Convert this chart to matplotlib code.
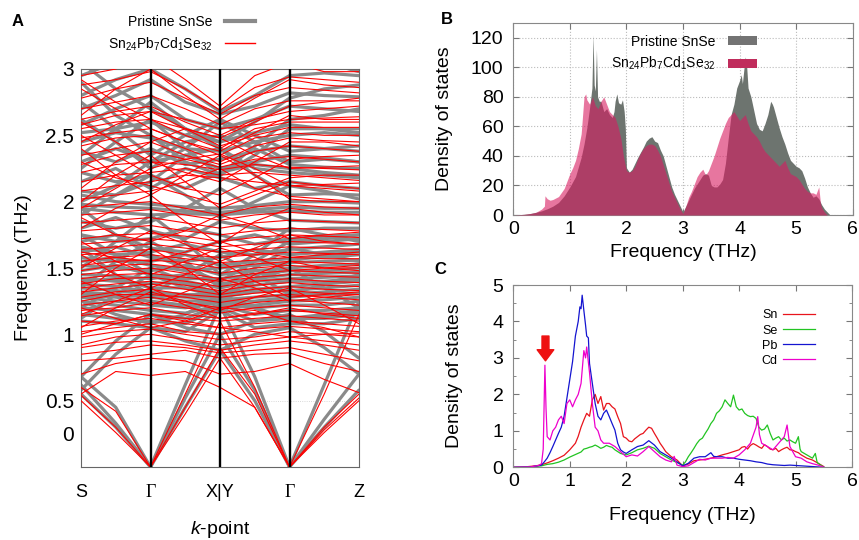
import matplotlib
matplotlib.use("Agg")
import matplotlib.pyplot as plt
from matplotlib.lines import Line2D
from matplotlib.patches import Patch

plt.rcParams["font.family"] = ["Liberation Sans", "DejaVu Sans"]
plt.rcParams["mathtext.fontset"] = "custom"
plt.rcParams["mathtext.rm"] = "Liberation Sans"
plt.rcParams["mathtext.it"] = "Liberation Sans:italic"

# ---------------- panel A: phonon bands (S, mid, G, mid, X|Y, mid, G, mid, Z)
k_nodes = [0, 0.5, 1, 1.5, 2, 2.5, 3, 3.5, 4]
k_labels = ["S", "Γ", "X|Y", "Γ", "Z"]

bands_pristine = [
    [0.55, 0.30, 0.00, 0.45, 0.88, 0.50, 0.00, 0.30, 0.58],
    [0.62, 0.33, 0.00, 0.52, 1.00, 0.58, 0.00, 0.36, 0.70],
    [0.68, 0.45, 0.00, 0.62, 1.22, 0.68, 0.00, 0.62, 1.25],
    [0.58, 0.85, 1.05, 0.95, 0.88, 1.00, 1.05, 0.90, 0.70],
    [0.68, 0.95, 1.15, 1.05, 1.00, 1.10, 1.15, 1.02, 0.82],
    [2.95, 3.05, 3.20, 3.30, 3.40, 3.30, 3.15, 3.05, 2.98],
    [2.80, 2.92, 3.00, 2.85, 2.68, 2.80, 2.95, 2.97, 2.95],
    [2.70, 2.80, 2.92, 2.75, 2.66, 2.72, 2.82, 2.80, 2.79],
    [2.58, 2.70, 2.80, 2.62, 2.55, 2.62, 2.72, 2.70, 2.68],
    [2.52, 2.55, 2.60, 2.50, 2.45, 2.52, 2.58, 2.55, 2.52],
    [2.45, 2.52, 2.48, 2.40, 2.38, 2.45, 2.50, 2.52, 2.50],
    [2.38, 2.30, 2.40, 2.28, 2.32, 2.38, 2.42, 2.40, 2.38],
    [2.30, 2.40, 2.30, 2.35, 2.25, 2.30, 2.35, 2.33, 2.30],
    [2.22, 2.15, 2.20, 2.10, 2.22, 2.28, 2.25, 2.22, 2.20],
    [2.15, 2.25, 2.10, 2.25, 2.18, 2.10, 2.15, 2.12, 2.10],
    [2.08, 2.05, 2.15, 2.35, 2.40, 2.20, 2.05, 2.06, 2.05],
    [2.35, 2.55, 2.75, 2.55, 2.40, 2.25, 2.22, 2.20, 2.18],
    [2.62, 2.45, 2.25, 2.40, 2.60, 2.45, 2.30, 2.32, 2.30],
    [2.90, 2.65, 2.50, 2.30, 2.20, 2.42, 2.62, 2.65, 2.70],
    [2.05, 2.00, 1.98, 1.96, 1.95, 1.97, 2.00, 2.00, 1.99],
    [1.98, 1.96, 1.95, 1.93, 1.92, 1.94, 1.96, 1.95, 1.95],
    [1.95, 1.92, 1.90, 1.91, 1.90, 1.92, 1.93, 1.92, 1.92],
    [1.90, 2.05, 2.20, 2.05, 1.88, 2.00, 2.12, 2.08, 2.02],
    [1.85, 1.80, 1.85, 1.95, 2.10, 1.95, 1.86, 1.85, 1.84],
    [1.80, 1.88, 1.78, 1.72, 1.85, 1.80, 1.78, 1.80, 1.80],
    [1.75, 1.70, 1.72, 1.80, 1.75, 1.68, 1.72, 1.74, 1.75],
    [1.70, 1.75, 1.65, 1.62, 1.70, 1.75, 1.68, 1.70, 1.72],
    [1.66, 1.60, 1.62, 1.68, 1.62, 1.60, 1.64, 1.66, 1.68],
    [1.62, 1.66, 1.58, 1.55, 1.58, 1.64, 1.60, 1.62, 1.64],
    [1.58, 1.55, 1.55, 1.60, 1.52, 1.55, 1.57, 1.58, 1.60],
    [1.55, 1.58, 1.52, 1.48, 1.50, 1.52, 1.54, 1.55, 1.56],
    [1.52, 1.50, 1.48, 1.52, 1.45, 1.48, 1.50, 1.52, 1.53],
    [1.48, 1.52, 1.45, 1.42, 1.42, 1.45, 1.48, 1.48, 1.50],
    [1.45, 1.44, 1.42, 1.45, 1.38, 1.42, 1.45, 1.46, 1.47],
    [1.42, 1.40, 1.38, 1.40, 1.35, 1.40, 1.42, 1.43, 1.44],
    [1.40, 1.42, 1.35, 1.35, 1.32, 1.37, 1.40, 1.40, 1.42],
    [1.38, 1.36, 1.32, 1.30, 1.30, 1.34, 1.36, 1.38, 1.40],
    [1.35, 1.33, 1.30, 1.28, 1.28, 1.32, 1.33, 1.35, 1.37],
    [1.32, 1.30, 1.28, 1.25, 1.26, 1.28, 1.30, 1.32, 1.34],
    [1.30, 1.28, 1.25, 1.22, 1.25, 1.25, 1.28, 1.30, 1.31],
    [1.28, 1.25, 1.22, 1.20, 1.24, 1.22, 1.25, 1.26, 1.28],
    [1.25, 1.22, 1.18, 1.16, 1.22, 1.20, 1.22, 1.22, 1.25],
    [1.20, 1.18, 1.15, 1.12, 1.22, 1.15, 1.18, 1.18, 1.20],
    [1.15, 1.12, 1.10, 1.08, 1.20, 1.10, 1.12, 1.12, 1.15],
    [1.10, 1.08, 1.05, 1.02, 1.18, 1.05, 1.08, 1.08, 1.12],
    [1.35, 1.55, 1.70, 1.55, 1.35, 1.50, 1.65, 1.60, 1.55],
    [1.65, 1.45, 1.30, 1.45, 1.60, 1.45, 1.30, 1.38, 1.45],
    [1.20, 1.35, 1.50, 1.40, 1.30, 1.20, 1.12, 1.15, 1.18],
    [1.75, 1.60, 1.45, 1.35, 1.28, 1.40, 1.55, 1.60, 1.62],
    [1.50, 1.70, 1.90, 1.70, 1.45, 1.60, 1.80, 1.75, 1.70],
    [1.95, 1.75, 1.60, 1.50, 1.40, 1.55, 1.70, 1.72, 1.75],
    [2.25, 2.45, 2.62, 2.40, 2.20, 2.35, 2.55, 2.55, 2.55],
    [2.75, 2.55, 2.35, 2.50, 2.62, 2.50, 2.38, 2.40, 2.42],
    [1.12, 1.30, 1.45, 1.38, 1.30, 1.40, 1.50, 1.35, 1.20],
    [1.25, 1.15, 1.08, 1.15, 1.30, 1.20, 1.10, 1.14, 1.16],
    [2.00, 2.12, 2.30, 2.45, 2.50, 2.40, 2.28, 2.26, 2.25],
    [3.05, 2.85, 2.70, 2.55, 2.45, 2.60, 2.78, 2.85, 2.88],
]

bands_doped = [
    [0.50, 0.26, 0.00, 0.40, 0.82, 0.45, 0.00, 0.26, 0.50],
    [0.54, 0.30, 0.00, 0.45, 0.90, 0.55, 0.00, 0.30, 0.55],
    [0.60, 0.42, 0.00, 0.55, 1.10, 0.60, 0.00, 0.55, 1.15],
    [0.55, 0.72, 0.69, 0.72, 0.60, 0.45, 0.00, 0.28, 0.52],
    [0.70, 0.78, 0.82, 0.80, 0.70, 0.72, 0.78, 0.66, 0.56],
    [0.80, 0.82, 0.85, 0.88, 0.82, 0.85, 0.86, 0.78, 0.72],
    [0.85, 0.88, 0.92, 0.90, 0.86, 0.88, 0.90, 0.85, 0.80],
    [0.90, 0.94, 0.95, 0.92, 0.88, 0.92, 0.95, 0.92, 0.88],
    [0.92, 0.98, 1.00, 0.96, 0.92, 0.95, 0.98, 0.95, 0.92],
    [0.98, 1.02, 1.04, 1.00, 0.96, 0.98, 1.02, 1.00, 0.98],
    [1.02, 1.05, 1.08, 1.02, 1.00, 1.04, 1.06, 1.04, 1.02],
    [1.06, 1.10, 1.12, 1.08, 1.05, 1.08, 1.10, 1.08, 1.06],
    [1.10, 1.08, 1.15, 1.12, 1.10, 1.12, 1.14, 1.12, 1.10],
    [1.14, 1.18, 1.20, 1.15, 1.12, 1.16, 1.18, 1.16, 1.14],
    [1.18, 1.20, 1.24, 1.20, 1.16, 1.20, 1.22, 1.20, 1.18],
    [1.22, 1.25, 1.28, 1.24, 1.20, 1.24, 1.26, 1.24, 1.22],
    [1.25, 1.30, 1.30, 1.28, 1.24, 1.28, 1.30, 1.28, 1.26],
    [1.28, 1.32, 1.34, 1.30, 1.28, 1.31, 1.33, 1.31, 1.30],
    [1.32, 1.35, 1.38, 1.34, 1.30, 1.34, 1.36, 1.34, 1.33],
    [1.35, 1.38, 1.40, 1.37, 1.33, 1.37, 1.39, 1.37, 1.36],
    [1.38, 1.42, 1.43, 1.40, 1.36, 1.40, 1.42, 1.40, 1.39],
    [1.42, 1.45, 1.46, 1.43, 1.40, 1.43, 1.45, 1.44, 1.43],
    [1.45, 1.48, 1.50, 1.46, 1.42, 1.46, 1.48, 1.47, 1.46],
    [1.48, 1.52, 1.53, 1.50, 1.46, 1.50, 1.52, 1.50, 1.50],
    [1.52, 1.55, 1.56, 1.54, 1.50, 1.53, 1.55, 1.54, 1.53],
    [1.55, 1.58, 1.60, 1.57, 1.54, 1.56, 1.58, 1.57, 1.57],
    [1.60, 1.62, 1.64, 1.60, 1.58, 1.60, 1.62, 1.61, 1.60],
    [1.64, 1.66, 1.68, 1.65, 1.62, 1.64, 1.66, 1.65, 1.64],
    [1.68, 1.70, 1.72, 1.70, 1.66, 1.68, 1.70, 1.69, 1.68],
    [1.72, 1.75, 1.76, 1.74, 1.70, 1.73, 1.75, 1.74, 1.73],
    [1.78, 1.80, 1.82, 1.78, 1.75, 1.78, 1.80, 1.79, 1.78],
    [1.84, 1.86, 1.88, 1.84, 1.80, 1.84, 1.86, 1.85, 1.84],
    [1.90, 1.92, 1.94, 1.90, 1.86, 1.90, 1.92, 1.90, 1.90],
    [1.96, 1.98, 2.00, 1.95, 1.90, 1.96, 1.98, 1.96, 1.95],
    [2.02, 2.05, 2.08, 2.15, 2.25, 2.10, 2.04, 2.02, 2.00],
    [2.08, 2.12, 2.15, 2.20, 2.18, 2.15, 2.12, 2.10, 2.08],
    [2.15, 2.20, 2.22, 2.25, 2.20, 2.22, 2.20, 2.18, 2.16],
    [2.22, 2.28, 2.30, 2.28, 2.24, 2.28, 2.26, 2.25, 2.24],
    [2.28, 2.35, 2.38, 2.32, 2.26, 2.32, 2.34, 2.32, 2.30],
    [2.35, 2.40, 2.45, 2.35, 2.28, 2.38, 2.42, 2.40, 2.38],
    [2.42, 2.48, 2.50, 2.40, 2.30, 2.42, 2.48, 2.46, 2.45],
    [2.48, 2.52, 2.55, 2.45, 2.35, 2.48, 2.52, 2.50, 2.50],
    [2.55, 2.60, 2.62, 2.50, 2.40, 2.55, 2.60, 2.60, 2.60],
    [2.62, 2.68, 2.72, 2.60, 2.50, 2.62, 2.68, 2.70, 2.72],
    [2.70, 2.75, 2.80, 2.70, 2.58, 2.70, 2.76, 2.76, 2.76],
    [2.78, 2.85, 2.90, 2.78, 2.66, 2.80, 2.86, 2.84, 2.82],
    [2.88, 2.92, 2.98, 2.85, 2.69, 2.86, 2.94, 2.92, 2.90],
    [2.95, 3.00, 3.10, 2.92, 2.72, 2.95, 3.05, 2.98, 2.98],
    [1.30, 1.50, 1.65, 1.50, 1.30, 1.45, 1.55, 1.50, 1.48],
    [1.60, 1.45, 1.35, 1.45, 1.55, 1.40, 1.28, 1.30, 1.32],
    [2.00, 2.20, 2.35, 2.15, 1.95, 2.05, 2.15, 2.12, 2.10],
    [2.40, 2.20, 2.05, 2.20, 2.35, 2.20, 2.02, 2.00, 2.00],
    [1.80, 1.95, 2.05, 1.85, 1.68, 1.85, 1.95, 1.92, 1.90],
    [2.60, 2.45, 2.30, 2.22, 2.15, 2.30, 2.45, 2.45, 2.42],
    [1.15, 1.25, 1.35, 1.22, 1.12, 1.15, 1.20, 1.15, 1.12],
    [2.85, 2.70, 2.55, 2.45, 2.38, 2.52, 2.65, 2.62, 2.62],
    [1.05, 1.20, 1.32, 1.25, 1.18, 1.28, 1.35, 1.22, 1.08],
    [1.40, 1.30, 1.22, 1.32, 1.42, 1.35, 1.25, 1.28, 1.30],
    [1.70, 1.55, 1.45, 1.55, 1.65, 1.58, 1.48, 1.50, 1.52],
    [1.50, 1.65, 1.78, 1.68, 1.55, 1.65, 1.75, 1.70, 1.68],
    [2.10, 2.30, 2.45, 2.55, 2.48, 2.35, 2.25, 2.26, 2.27],
    [2.50, 2.35, 2.20, 2.10, 2.05, 2.18, 2.32, 2.34, 2.35],
    [2.65, 2.85, 3.00, 2.80, 2.62, 2.78, 2.92, 2.88, 2.86],
    [1.88, 1.75, 1.70, 1.78, 1.90, 1.82, 1.72, 1.75, 1.77],
    [1.62, 1.58, 1.55, 1.62, 1.70, 1.62, 1.58, 1.60, 1.62],
    [2.30, 2.18, 2.12, 2.05, 1.98, 2.08, 2.18, 2.20, 2.20],
    [1.00, 1.08, 1.15, 1.10, 1.05, 1.02, 0.98, 1.00, 1.01],
    [1.95, 2.10, 2.25, 2.32, 2.36, 2.25, 2.12, 2.13, 2.14],
    [2.92, 2.75, 2.62, 2.55, 2.48, 2.60, 2.72, 2.75, 2.78],
    [1.20, 1.12, 1.05, 1.10, 1.20, 1.18, 1.10, 1.05, 0.98],
    [2.58, 2.65, 2.68, 2.62, 2.55, 2.58, 2.62, 2.63, 2.64],
    [2.45, 2.58, 2.68, 2.55, 2.42, 2.50, 2.56, 2.56, 2.56],
]

# ---------------- panel B: total phonon DOS
freq_pristine = [0.0, 0.1, 0.2, 0.3, 0.4, 0.5, 0.6, 0.7, 0.8, 0.9, 1.0, 1.1, 1.2, 1.25, 1.3,
                 1.35, 1.39, 1.41, 1.43, 1.45, 1.47, 1.49, 1.52, 1.55, 1.6, 1.65, 1.7, 1.75,
                 1.78, 1.8, 1.83, 1.86, 1.9, 1.93, 1.96, 1.98, 2.0, 2.05, 2.1, 2.15, 2.2, 2.3,
                 2.35, 2.4, 2.45, 2.5, 2.55, 2.6, 2.65, 2.7, 2.75, 2.8, 2.85, 2.9, 2.95, 3.0,
                 3.05, 3.1, 3.15, 3.2, 3.25, 3.3, 3.35, 3.4, 3.45, 3.5, 3.55, 3.6, 3.65, 3.7,
                 3.75, 3.8, 3.85, 3.9, 3.95, 4.0, 4.03, 4.05, 4.08, 4.1, 4.12, 4.15, 4.2, 4.25,
                 4.3, 4.35, 4.4, 4.45, 4.5, 4.55, 4.58, 4.6, 4.65, 4.7, 4.75, 4.8, 4.85, 4.9,
                 4.95, 5.0, 5.05, 5.1, 5.15, 5.2, 5.25, 5.3, 5.35, 5.4, 5.45, 5.5, 5.55, 5.6]
dos_pristine = [0, 0.2, 0.5, 1, 1.8, 2.8, 4.2, 6, 8.5, 13, 19, 26, 39, 48, 59,
                73, 86, 122, 88, 84, 112, 80, 77, 77, 70, 72, 68, 66,
                70, 77, 82, 76, 75, 78, 70, 59, 32, 29, 31, 35, 39, 46,
                50, 52, 53, 50, 49, 44, 40, 33, 26, 19, 14, 10, 6, 2,
                6, 10, 14, 18, 21, 24, 27, 28, 27, 20, 19, 19, 21, 24,
                35, 52, 68, 75, 86, 91, 95, 89, 100, 107, 104, 86, 80, 71,
                62, 58, 57, 62, 68, 77, 75, 73, 66, 59, 53, 48, 42, 37,
                35, 33, 32, 30, 25, 19, 15, 12, 13, 11, 7, 4, 2, 0]

freq_doped = [0.0, 0.1, 0.2, 0.3, 0.4, 0.5, 0.55, 0.56, 0.6, 0.65, 0.7, 0.8, 0.9, 1.0, 1.05,
              1.1, 1.15, 1.2, 1.23, 1.25, 1.28, 1.3, 1.35, 1.4, 1.45, 1.5, 1.55, 1.6, 1.65,
              1.7, 1.75, 1.8, 1.85, 1.9, 1.95, 2.0, 2.05, 2.1, 2.15, 2.2, 2.25, 2.3, 2.35,
              2.4, 2.45, 2.5, 2.55, 2.6, 2.65, 2.7, 2.75, 2.8, 2.85, 2.9, 2.95, 3.0, 3.05,
              3.1, 3.15, 3.2, 3.25, 3.3, 3.35, 3.4, 3.45, 3.5, 3.55, 3.6, 3.65, 3.7, 3.75,
              3.8, 3.85, 3.9, 3.95, 4.0, 4.05, 4.1, 4.15, 4.2, 4.25, 4.3, 4.35, 4.4, 4.45,
              4.5, 4.55, 4.6, 4.65, 4.7, 4.75, 4.8, 4.85, 4.9, 4.95, 5.0, 5.05, 5.1, 5.15,
              5.2, 5.25, 5.3, 5.35, 5.4, 5.43, 5.45, 5.5, 5.55]
dos_doped = [0, 0.2, 0.5, 1, 1.8, 4, 6, 13, 11, 10, 10.5, 12.5, 18, 28, 32,
             37, 45, 55, 70, 80, 82, 78, 75, 80, 74, 72, 77, 80, 75,
             70, 68, 66, 60, 52, 39, 30, 29, 30, 33, 38, 42, 45, 47,
             48, 48, 47, 44, 40, 34, 28, 22, 16, 12, 8, 4, 1, 6,
             12, 16, 21, 26, 29, 31, 27, 30, 35, 40, 46, 52, 57, 62,
             66, 68, 70, 67, 64, 66, 68, 62, 57, 55, 53, 50, 46, 43,
             41, 39, 37, 35, 33, 35, 37, 32, 28, 27, 26, 24, 21, 18,
             16, 15, 15, 14, 19, 8, 5, 2, 0]

# ---------------- panel C: partial DOS of the doped cell
freq_sn = [0, 0.2, 0.4, 0.5, 0.6, 0.7, 0.8, 0.9, 1.0, 1.1, 1.15, 1.2, 1.25, 1.3, 1.35, 1.4,
           1.45, 1.5, 1.55, 1.6, 1.65, 1.7, 1.75, 1.8, 1.85, 1.9, 1.95, 2.0, 2.05, 2.1, 2.15,
           2.2, 2.25, 2.3, 2.35, 2.4, 2.45, 2.5, 2.55, 2.6, 2.65, 2.7, 2.8, 2.9, 2.95, 3.0,
           3.1, 3.2, 3.3, 3.4, 3.5, 3.6, 3.7, 3.8, 3.9, 4.0, 4.05, 4.1, 4.15, 4.2, 4.25, 4.3,
           4.35, 4.4, 4.45, 4.5, 4.55, 4.6, 4.65, 4.7, 4.75, 4.8, 4.85, 4.9, 4.95, 5.0, 5.05,
           5.1, 5.2, 5.3, 5.4, 5.5]
pdos_sn = [0, 0.01, 0.04, 0.07, 0.12, 0.18, 0.25, 0.33, 0.48, 0.66, 0.85, 1.1, 1.3, 1.48, 1.4, 1.85,
           2.0, 1.75, 1.94, 1.57, 1.75, 1.75, 1.66, 1.6, 1.39, 1.2, 0.84, 0.8, 0.72, 0.7, 0.78,
           0.84, 0.9, 0.93, 1.02, 1.1, 1.07, 0.93, 0.8, 0.66, 0.55, 0.43, 0.29, 0.2, 0.12, 0.04,
           0.09, 0.18, 0.2, 0.22, 0.25, 0.29, 0.34, 0.38, 0.43, 0.48, 0.55, 0.57, 0.5, 0.6, 0.65, 0.61,
           0.56, 0.52, 0.62, 0.57, 0.5, 0.48, 0.52, 0.43, 0.48, 0.52, 0.55, 0.48, 0.47, 0.43, 0.4,
           0.34, 0.25, 0.2, 0.11, 0.02]

freq_se = [0, 0.3, 0.5, 0.6, 0.7, 0.8, 0.9, 1.0, 1.1, 1.2, 1.25, 1.3, 1.35, 1.4, 1.45, 1.5,
           1.55, 1.6, 1.65, 1.7, 1.75, 1.8, 1.9, 2.0, 2.1, 2.2, 2.3, 2.4, 2.45, 2.5, 2.6, 2.7,
           2.8, 2.9, 3.0, 3.05, 3.1, 3.15, 3.2, 3.25, 3.3, 3.35, 3.4, 3.45, 3.5, 3.55, 3.6,
           3.65, 3.7, 3.75, 3.8, 3.85, 3.9, 3.95, 4.0, 4.05, 4.1, 4.15, 4.2, 4.25, 4.3, 4.35,
           4.4, 4.45, 4.5, 4.55, 4.6, 4.65, 4.7, 4.75, 4.8, 4.85, 4.9, 4.95, 5.0, 5.05, 5.08,
           5.1, 5.2, 5.3, 5.35, 5.38, 5.4, 5.5]
pdos_se = [0, 0.01, 0.04, 0.08, 0.1, 0.14, 0.2, 0.28, 0.35, 0.42, 0.5, 0.52, 0.55, 0.57, 0.61, 0.57,
           0.52, 0.55, 0.6, 0.57, 0.55, 0.48, 0.38, 0.34, 0.4, 0.48, 0.52, 0.58, 0.55, 0.52, 0.38, 0.29,
           0.2, 0.13, 0.06, 0.15, 0.29, 0.4, 0.52, 0.65, 0.75, 0.8, 0.93, 1.05, 1.2, 1.3, 1.48,
           1.55, 1.66, 1.85, 1.75, 1.66, 1.98, 1.66, 1.57, 1.6, 1.48, 1.42, 1.39, 1.4, 1.34, 1.1,
           1.02, 1.05, 1.16, 0.93, 0.75, 0.8, 0.84, 0.75, 0.8, 0.72, 0.75, 0.7, 0.66, 0.84, 0.5,
           0.43, 0.34, 0.25, 0.38, 0.15, 0.11, 0]

freq_pb = [0, 0.3, 0.5, 0.55, 0.6, 0.65, 0.7, 0.75, 0.8, 0.85, 0.9, 0.95, 1.0, 1.05, 1.1, 1.15,
           1.18, 1.2, 1.22, 1.25, 1.28, 1.3, 1.33, 1.35, 1.4, 1.45, 1.5, 1.55, 1.6, 1.65, 1.7,
           1.75, 1.8, 1.85, 1.9, 1.95, 2.0, 2.1, 2.2, 2.3, 2.4, 2.5, 2.6, 2.7, 2.8, 2.9, 3.0,
           3.1, 3.2, 3.3, 3.4, 3.5, 3.55, 3.6, 3.7, 3.8, 3.9, 4.0, 4.1, 4.2, 4.3, 4.4, 4.5,
           4.6, 4.7, 4.8, 4.9, 5.0, 5.2, 5.4, 5.5]
pdos_pb = [0, 0.01, 0.06, 0.15, 0.25, 0.4, 0.57, 0.75, 0.93, 1.1, 1.4, 1.9, 2.4, 2.9, 3.6, 4.0,
           4.4, 4.35, 4.72, 4.3, 3.9, 3.6, 3.55, 2.85, 2.3, 1.75, 1.4, 1.3, 1.48, 1.57, 1.39,
           1.2, 1.02, 0.66, 0.48, 0.42, 0.38, 0.48, 0.57, 0.61, 0.73, 0.61, 0.43, 0.34, 0.25, 0.15, 0.04,
           0.11, 0.25, 0.29, 0.29, 0.4, 0.3, 0.29, 0.29, 0.25, 0.25, 0.22, 0.2, 0.18, 0.15, 0.13, 0.09,
           0.07, 0.06, 0.05, 0.06, 0.05, 0.03, 0.01, 0]

freq_cd = [0, 0.3, 0.45, 0.5, 0.53, 0.56, 0.58, 0.6, 0.65, 0.7, 0.75, 0.8, 0.85, 0.9, 0.95, 1.0,
           1.05, 1.1, 1.15, 1.2, 1.25, 1.28, 1.3, 1.35, 1.4, 1.45, 1.5, 1.55, 1.6, 1.7, 1.8,
           1.9, 2.0, 2.1, 2.2, 2.3, 2.4, 2.5, 2.6, 2.7, 2.8, 2.85, 2.9, 3.0, 3.1, 3.2, 3.3,
           3.4, 3.5, 3.6, 3.7, 3.8, 3.9, 4.0, 4.1, 4.2, 4.3, 4.33, 4.36, 4.4, 4.5, 4.6, 4.7,
           4.8, 4.85, 4.9, 5.0, 5.1, 5.2, 5.3, 5.4, 5.5]
pdos_cd = [0, 0.01, 0.05, 0.1, 0.5, 2.8, 1.6, 0.84, 0.75, 1.0, 1.1, 1.3, 1.4, 1.2, 1.75, 1.85,
           1.66, 1.85, 2.0, 2.3, 3.2, 3.0, 3.3, 2.6, 1.75, 1.1, 1.0, 0.75, 0.66, 0.66, 0.57,
           0.43, 0.29, 0.34, 0.31, 0.43, 0.57, 0.43, 0.29, 0.2, 0.15, 0.3, 0.06, 0.02, 0.04, 0.13, 0.22,
           0.2, 0.25, 0.25, 0.25, 0.27, 0.25, 0.34, 0.48, 0.66, 1.1, 1.39, 0.9, 0.66, 0.57, 0.48, 0.66,
           0.84, 1.16, 0.57, 0.29, 0.25, 0.15, 0.1, 0.06, 0]

label_pristine = "Pristine SnSe"
label_doped = r"Sn$_{24}$Pb$_{7}$Cd$_{1}$Se$_{32}$"

W, H = 859, 540
fig = plt.figure(figsize=(W / 100, H / 100), dpi=100)
axA = fig.add_axes([81 / W, 1 - 467 / H, 278 / W, 398 / H])
axB = fig.add_axes([513.3 / W, 1 - 215 / H, 339.4 / W, 192 / H])
axC = fig.add_axes([513.3 / W, 1 - 467.3 / H, 338.7 / W, 182.3 / H])

# ---- A
for b in bands_pristine:
    axA.plot(k_nodes, b, color="#8a8a8a", lw=2.3, solid_capstyle="round", zorder=2)
for b in bands_doped:
    axA.plot(k_nodes, b, color="#ff0000", lw=0.8, zorder=3)
for k in [1, 2, 3]:
    axA.axvline(k, color="black", lw=1.7, zorder=4)
axA.axhline(0.5, color="#cccccc", lw=0.6, ls=":", zorder=1)
axA.set_xlim(0, 4)
axA.set_ylim(0, 3)
axA.set_xticks([0, 1, 2, 3, 4])
axA.set_xticklabels(k_labels, fontsize=13)
for t in axA.get_xticklabels():
    if t.get_text() == "Γ":
        t.set_family("Liberation Serif")
axA.set_yticks([0.25, 0.5, 1, 1.5, 2, 2.5, 3])
axA.set_yticklabels(["0", "0.5", "1", "1.5", "2", "2.5", "3"], fontsize=15)
axA.tick_params(length=0)
axA.tick_params(axis="y", pad=5)
axA.tick_params(axis="x", pad=12)
for s in axA.spines.values():
    s.set_color("#666666")
axA.set_ylabel("Frequency (THz)", fontsize=14)
axA.yaxis.set_label_coords(-0.176, 0.5)
axA.set_xlabel(r"$\it{k}$-point", fontsize=14)
axA.xaxis.set_label_coords(0.5, -0.13)

handlesA = [Line2D([], [], color="#8a8a8a", lw=3), Line2D([], [], color="#ff0000", lw=1)]
fig.legend(handlesA, [label_pristine, label_doped], loc="upper right",
           bbox_to_anchor=(262 / W, 1 - 8 / H), frameon=False, markerfirst=False,
           fontsize=10, handlelength=2.2, handletextpad=0.9, labelspacing=0.45, borderpad=0)

# ---- B
axB.fill_between(freq_pristine, dos_pristine, color="#6d746f", lw=0, zorder=2)
axB.fill_between(freq_doped, dos_doped, color="#d81b60", alpha=0.6, lw=0, zorder=3)
axB.set_xlim(0, 6)
axB.set_ylim(0, 130)
axB.set_xticks(range(0, 7))
axB.set_yticks(range(0, 121, 20))
axB.grid(True, ls=":", color="#bbbbbb", lw=0.8)
axB.set_axisbelow(True)
axB.set_xlabel("Frequency (THz)", fontsize=14)
axB.xaxis.set_label_coords(0.5, -0.15)
axB.set_ylabel("Density of states", fontsize=14)
axB.yaxis.set_label_coords(-0.178, 0.5)
handlesB = [Patch(facecolor="#737373"), Patch(facecolor="#c02c5c")]
axB.legend(handlesB, [label_pristine, label_doped], loc="upper right",
           bbox_to_anchor=(0.738, 0.975), frameon=False, markerfirst=False,
           fontsize=10, handlelength=2.1, handleheight=0.6, handletextpad=0.9,
           labelspacing=0.45, borderpad=0)

# ---- C
axC.plot(freq_sn, pdos_sn, color="#e8141c", lw=0.9, label="Sn")
axC.plot(freq_se, pdos_se, color="#22c422", lw=0.9, label="Se")
axC.plot(freq_pb, pdos_pb, color="#1414d0", lw=0.9, label="Pb")
axC.plot(freq_cd, pdos_cd, color="#ee00cc", lw=0.9, label="Cd")
axC.annotate("", xy=(0.57, 2.92), xytext=(0.57, 3.6),
             arrowprops=dict(facecolor="#ee1111", edgecolor="#ee1111",
                             width=5, headwidth=12, headlength=8))
axC.set_xlim(0, 6)
axC.set_ylim(0, 5)
axC.set_xticks(range(0, 7))
axC.set_yticks(range(0, 6))
axC.set_yticks([0.5 + i for i in range(5)], minor=True)
axC.set_xlabel("Frequency (THz)", fontsize=14)
axC.xaxis.set_label_coords(0.5, -0.218)
axC.set_ylabel("Density of states", fontsize=14)
axC.yaxis.set_label_coords(-0.149, 0.5)
axC.legend(loc="upper right", bbox_to_anchor=(0.91, 0.9), frameon=False,
           markerfirst=False, fontsize=9, handlelength=2.6, handletextpad=0.4,
           labelspacing=0.25, borderpad=0)

for ax in (axB, axC):
    ax.tick_params(which="both", direction="in", top=True, right=True,
                   labelsize=14, color="#777777")
    ax.tick_params(which="major", length=4)
    ax.tick_params(which="minor", length=2.5)
    ax.tick_params(axis="y", pad=7)
    ax.tick_params(axis="x", pad=4)
    for s in ax.spines.values():
        s.set_color("#888888")

fig.text(18 / W, 1 - 21 / H, "A", fontsize=12, fontweight="bold", ha="center", va="center")
fig.text(447 / W, 1 - 20 / H, "B", fontsize=12, fontweight="bold", ha="center", va="center")
fig.text(440 / W, 1 - 270 / H, "C", fontsize=12, fontweight="bold", ha="center", va="center")

fig.savefig("out.png", dpi=100)
